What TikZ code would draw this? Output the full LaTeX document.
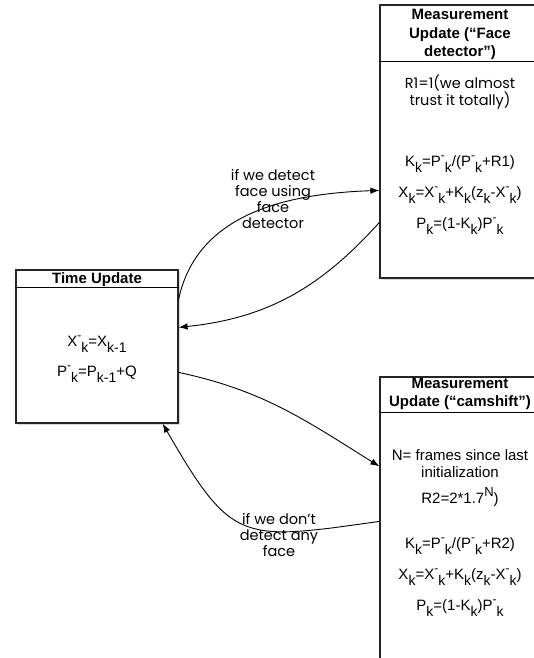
\documentclass[tikz,border=0pt]{standalone}
\usepackage{fontspec}
\setmainfont{Liberation Sans}
\newfontfamily\gothic{Poppins}
\usetikzlibrary{shadows,arrows.meta}

\newcommand{\lowk}[1]{\raisebox{-0.35em}{\fontsize{14}{14}\selectfont #1}}
\newcommand{\supmin}{\raisebox{0.5em}{\fontsize{12}{12}\selectfont -}}

\tikzset{
  box/.style={rectangle, draw=black!85, line width=1.2pt, fill=white, inner sep=0pt,
    drop shadow={opacity=0.3, shadow xshift=2pt, shadow yshift=-2pt}},
  heading/.style={font=\bfseries\fontsize{15}{18.5}\selectfont, align=center, inner sep=0pt, anchor=base},
  formula/.style={font=\fontsize{15}{31}\selectfont, align=center, inner sep=0pt, anchor=base},
  remark/.style={font=\gothic\fontsize{14.5}{16}\selectfont, align=center, inner sep=0pt, anchor=base},
  flow/.style={line width=0.9pt, -{Latex[length=9pt,width=6.5pt]}},
}

\begin{document}
\begin{tikzpicture}[x=1pt,y=1pt]
\useasboundingbox (0,0) rectangle (534,658);

% the three boxes
\node[box, minimum width=162pt, minimum height=153pt] (tu) at (97,311.5) {};
\node[box, minimum width=160pt, minimum height=273pt] (mf) at (460,516.5) {};
\node[box, minimum width=160pt, minimum height=301pt] (mc) at (460,130.5) {};

\draw[line width=1pt] ([yshift=-18pt]tu.north west) -- ([yshift=-18pt]tu.north east);
\draw[line width=1pt] ([yshift=-57pt]mf.north west) -- ([yshift=-57pt]mf.north east);
\draw[line width=1pt] ([yshift=-36pt]mc.north west) -- ([yshift=-36pt]mc.north east);

% time update (base = last line)
\node[heading] (tutitle) at (97,374) {Time Update};
\node[formula, font=\fontsize{15}{30}\selectfont] (tuform) at (97,281) {X\supmin\lowk{k}=X\lowk{k-1}\\P\supmin\lowk{k}=P\lowk{k-1}+Q};

% face detector
\node[heading] (mftitle) at (460,601) {Measurement\\Update (“Face\\detector”)};
\node[remark] (mfnote) at (460,552) {R1=1(we almost\\trust it totally)};
\node[formula] (mfform) at (460,429) {K\lowk{k}=P\supmin\lowk{k}/(P\supmin\lowk{k}+R1)\\
  X\lowk{k}=X\supmin\lowk{k}+K\lowk{k}(z\lowk{k}-X\supmin\lowk{k})\\
  P\lowk{k}=(1-K\lowk{k})P\supmin\lowk{k}};

% camshift
\node[heading] (mctitle) at (460,251) {Measurement\\Update (“camshift”)};
\node[formula, font=\fontsize{15}{17}\selectfont] (mcnote) at (460,154) {N= frames since last\\initialization\\[9pt]R2=2*1.7\raisebox{0.5em}{\fontsize{13}{13}\selectfont N})};
\node[formula] (mcform) at (460,47) {K\lowk{k}=P\supmin\lowk{k}/(P\supmin\lowk{k}+R2)\\
  X\lowk{k}=X\supmin\lowk{k}+K\lowk{k}(z\lowk{k}-X\supmin\lowk{k})\\
  P\lowk{k}=(1-K\lowk{k})P\supmin\lowk{k}};

% connectors
\draw[flow] ([yshift=-30pt]tu.north east) to[out=78,in=182] ([yshift=-186pt]mf.north west);
\draw[flow] ([yshift=-218pt]mf.north west) to[out=228,in=6] ([yshift=-58pt]tu.north east);
\draw[flow] ([yshift=-103pt]tu.north east) to[out=-12,in=148] ([yshift=-90pt]mc.north west);
\draw[flow] ([yshift=-145pt]mc.north west) to[out=188,in=-60,looseness=1.5] ([xshift=-16pt]tu.south east);

\node[remark] (detlbl) at (273,429) {if we detect\\face using\\face\\detector};
\node[remark] (nodetlbl) at (279,101) {if we don’t\\detect any\\face};
\end{tikzpicture}
\end{document}
